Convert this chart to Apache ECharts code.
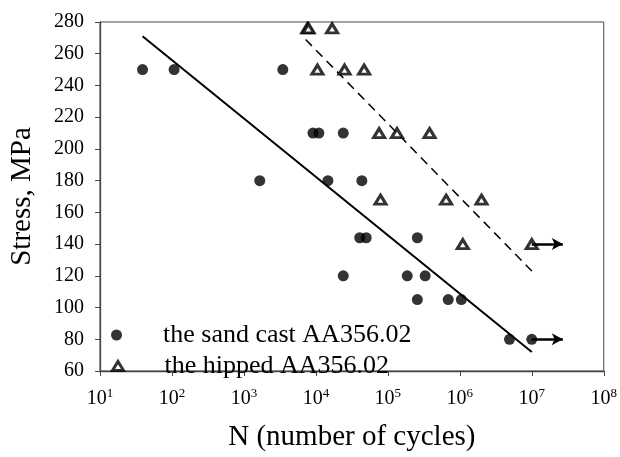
<!DOCTYPE html>
<html>
<head>
<meta charset="utf-8">
<script src="https://cdn.jsdelivr.net/npm/echarts@6/dist/echarts.min.js"></script>
<style>
html,body{margin:0;padding:0;background:#fff;}
#chart{width:620px;height:457px;}
</style>
</head>
<body>
<div id="chart"></div>
<script>
// ---- data (N cycles, stress MPa) ----
var sandCastN      = [39, 107, 3470, 1660, 9100, 11000, 24000, 14700, 43500, 40700, 50000, 257000, 24000, 186000, 330000, 257000, 690000, 1050000, 4900000, 10000000];
var sandCastStress = [250, 250, 250, 180, 210, 210, 210, 180, 180, 144, 144, 144, 120, 120, 120, 105, 105, 105, 80, 80];
var hippedN        = [7600, 7900, 16800, 10500, 25000, 46800, 75600, 134000, 380000, 79000, 645000, 2000000, 1100000, 10000000];
var hippedStress   = [276, 276, 276, 250, 250, 250, 210, 210, 210, 168, 168, 168, 140, 140];
// fitted trend lines (end points)
var sandFitN = [39, 10000000];
var sandFitStress = [271, 72];
var hipFitN = [7200, 10000000];
var hipFitStress = [269, 123];
// run-out arrows: start N, end N, stress
var runoutStartN = [10000000, 10000000];
var runoutEndN   = [27000000, 27000000];
var runoutStress = [140, 80];
// axis ticks
var yTicks = [60, 80, 100, 120, 140, 160, 180, 200, 220, 240, 260, 280];
var xExponents = [1, 2, 3, 4, 5, 6, 7, 8];

var serif = '"Liberation Serif", "DejaVu Serif", serif';
function zip(a, b) { return a.map(function (v, i) { return [v, b[i]]; }); }

var chart = echarts.init(document.getElementById('chart'));
var arrowLines = runoutStartN.map(function (s, i) {
  return [{ coord: [s, runoutStress[i]] }, { coord: [runoutEndN[i], runoutStress[i]] }];
});

chart.setOption({
  animation: false,
  backgroundColor: '#fff',
  grid: { left: 88, right: 13, top: 22, bottom: 64, show: true, borderColor: '#444', borderWidth: 1, containLabel: false },
  xAxis: {
    type: 'log', logBase: 10,
    min: Math.pow(10, xExponents[0]), max: Math.pow(10, xExponents[xExponents.length - 1]),
    name: 'N (number of cycles)', nameLocation: 'middle', nameGap: 52,
    nameTextStyle: { fontFamily: serif, fontSize: 29, color: '#000' },
    axisLine: { lineStyle: { color: '#444', width: 1.3 } },
    axisTick: { inside: false, length: 5, lineStyle: { color: '#444' } },
    minorTick: { show: false },
    splitLine: { show: false },
    axisLabel: {
      margin: 16,
      formatter: function (v) {
        var e = Math.round(Math.log(v) / Math.LN10);
        return '{b|10}{s|' + e + '}';
      },
      rich: {
        b: { fontFamily: serif, fontSize: 20, color: '#000', lineHeight: 22, verticalAlign: 'bottom' },
        s: { fontFamily: serif, fontSize: 13, color: '#000', lineHeight: 22, verticalAlign: 'top' }
      }
    }
  },
  yAxis: {
    type: 'value', min: yTicks[0], max: yTicks[yTicks.length - 1], interval: 20,
    name: 'Stress, MPa', nameLocation: 'middle', nameGap: 63, nameRotate: 90,
    nameTextStyle: { fontFamily: serif, fontSize: 29, color: '#000' },
    axisLine: { show: true, lineStyle: { color: '#444', width: 1.3 } },
    axisTick: { show: true, inside: false, length: 5, lineStyle: { color: '#444' } },
    splitLine: { show: false },
    axisLabel: { margin: 16, fontFamily: serif, fontSize: 20, color: '#000' }
  },
  legend: [
    {
      data: ['the sand cast AA356.02'], left: 111, top: 322, padding: 0,
      itemWidth: 11, itemHeight: 11, icon: 'circle',
      itemStyle: { color: '#000', borderWidth: 0 },
      textStyle: { fontFamily: serif, fontSize: 26, color: '#000', padding: [0, 0, 0, 36] }
    },
    {
      data: ['the hipped AA356.02'], left: 111, top: 353, padding: 0,
      itemWidth: 11, itemHeight: 9, icon: 'triangle',
      itemStyle: { color: '#fff', borderColor: '#000', borderWidth: 3 },
      textStyle: { fontFamily: serif, fontSize: 26, color: '#000', padding: [0, 0, 0, 36] }
    }
  ],
  series: [
    {
      name: 'sand fit', type: 'line', data: zip(sandFitN, sandFitStress),
      showSymbol: false, symbol: 'none', lineStyle: { color: '#000', width: 2 }, z: 1, silent: true
    },
    {
      name: 'hipped fit', type: 'line', data: zip(hipFitN, hipFitStress),
      showSymbol: false, symbol: 'none', lineStyle: { color: '#000', width: 1.5, type: [9, 6] }, z: 1, silent: true
    },
    {
      name: 'runout', type: 'line', data: [], silent: true,
      markLine: {
        silent: true, symbol: ['none', 'arrow'], symbolSize: [9, 11],
        label: { show: false },
        lineStyle: { color: '#000', width: 2.5, type: 'solid' },
        data: arrowLines
      }
    },
    {
      name: 'the sand cast AA356.02', type: 'scatter', data: zip(sandCastN, sandCastStress),
      symbol: 'circle', symbolSize: 11, itemStyle: { color: '#000' }, z: 3
    },
    {
      name: 'the hipped AA356.02', type: 'scatter', data: zip(hippedN, hippedStress),
      symbol: 'triangle', symbolSize: [11, 9],
      itemStyle: { color: '#fff', borderColor: '#000', borderWidth: 3 }, z: 3
    }
  ]
});
</script>
</body>
</html>
